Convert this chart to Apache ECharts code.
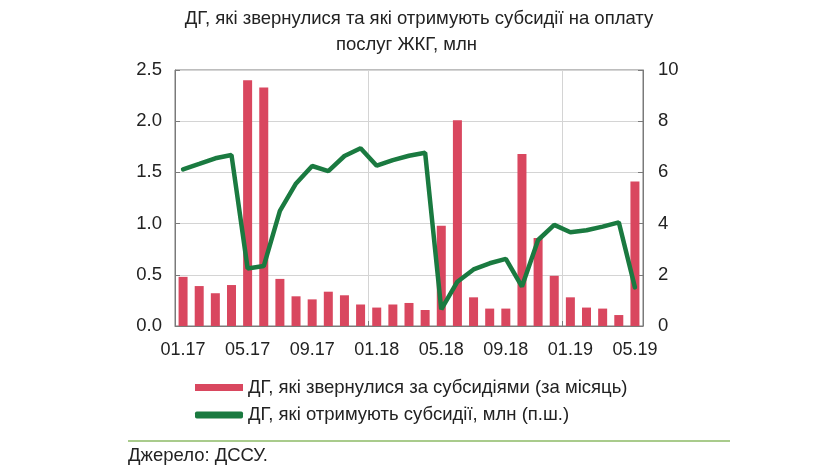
<!DOCTYPE html>
<html>
<head>
<meta charset="utf-8">
<script src="https://cdn.jsdelivr.net/npm/echarts@6/dist/echarts.min.js"></script>
<style>html,body{margin:0;padding:0;background:#fff}#c{width:821px;height:476px}</style>
</head>
<body>
<div id="c"></div>
<script>
const categories = ['01.17','02.17','03.17','04.17','05.17','06.17','07.17','08.17','09.17','10.17','11.17','12.17',
  '01.18','02.18','03.18','04.18','05.18','06.18','07.18','08.18','09.18','10.18','11.18','12.18',
  '01.19','02.19','03.19','04.19','05.19'];
const applied = [0.48,0.39,0.32,0.40,2.40,2.33,0.46,0.29,0.26,0.335,0.30,0.21,
  0.18,0.21,0.225,0.156,0.98,2.01,0.28,0.17,0.17,1.68,0.86,0.49,
  0.28,0.18,0.17,0.107,1.41];
const receiving = [6.12,6.33,6.55,6.68,2.25,2.34,4.5,5.57,6.25,6.05,6.64,6.94,
  6.26,6.48,6.65,6.77,0.65,1.73,2.21,2.45,2.62,1.54,3.36,3.95,
  3.66,3.74,3.88,4.05,1.51];
const leftTicks = [0, 2.5, 0.5];
const rightTicks = [0, 10, 2];
const titleLines = ['ДГ, які звернулися та які отримують субсидії на оплату', 'послуг ЖКГ, млн'];
const seriesNames = ['ДГ, які звернулися за субсидіями (за місяць)', 'ДГ, які отримують субсидії, млн (п.ш.)'];
const sourceText = 'Джерело: ДССУ.';

const FONT = 'Liberation Sans, Arial, sans-serif';
const TXT = '#222';
const chart = echarts.init(document.getElementById('c'));
chart.setOption({
  animation: false,
  textStyle: { fontFamily: FONT },
  grid: { left: 175, right: 178, top: 70, bottom: 150, show: true, borderColor: '#7a7a7a', borderWidth: 1 },
  legend: {
    orient: 'vertical', left: 190, top: 372.5, itemGap: 7.5, itemWidth: 48, itemHeight: 7,
    textStyle: { fontSize: 18.5, lineHeight: 20, color: TXT, fontFamily: FONT },
    data: [
      { name: seriesNames[0], icon: 'rect' },
      { name: seriesNames[1], icon: 'roundRect' }
    ]
  },
  xAxis: {
    type: 'category', data: categories, boundaryGap: true,
    axisLine: { lineStyle: { color: '#7a7a7a' } },
    axisTick: { show: true, inside: true, interval: (i) => i % 12 === 0 && i > 0, length: 5, lineStyle: { color: '#7a7a7a' } },
    axisLabel: { interval: 3, fontSize: 18, color: TXT, margin: 15, fontFamily: FONT },
    splitLine: { show: true, interval: (i) => i % 12 === 0 && i > 0, lineStyle: { color: '#d4d4d4' } }
  },
  yAxis: [
    {
      type: 'value', min: leftTicks[0], max: leftTicks[1], interval: leftTicks[2], position: 'left',
      axisLine: { show: true, lineStyle: { color: '#7a7a7a' } },
      axisTick: { show: true, inside: true, length: 5, lineStyle: { color: '#7a7a7a' } },
      axisLabel: { fontSize: 18.5, color: TXT, margin: 13, formatter: v => v.toFixed(1), fontFamily: FONT },
      splitLine: { show: true, lineStyle: { color: '#d4d4d4' } }
    },
    {
      type: 'value', min: rightTicks[0], max: rightTicks[1], interval: rightTicks[2], position: 'right',
      axisLine: { show: true, lineStyle: { color: '#7a7a7a' } },
      axisTick: { show: true, inside: true, length: 5, lineStyle: { color: '#7a7a7a' } },
      axisLabel: { fontSize: 18.5, color: TXT, margin: 15, fontFamily: FONT },
      splitLine: { show: false }
    }
  ],
  series: [
    { name: seriesNames[0], type: 'bar', data: applied, yAxisIndex: 0, barWidth: 9,
      itemStyle: { color: '#d9475f' } },
    { name: seriesNames[1], type: 'line', data: receiving, yAxisIndex: 1, symbol: 'none',
      lineStyle: { color: '#1a7a40', width: 4.5, cap: 'round' }, itemStyle: { color: '#1a7a40' } }
  ],
  graphic: [
    { type: 'text', style: { text: titleLines[0], x: 419, y: 19, textAlign: 'center', textVerticalAlign: 'middle', fontSize: 18.5, fill: TXT, fontFamily: FONT } },
    { type: 'text', style: { text: titleLines[1], x: 406.5, y: 45, textAlign: 'center', textVerticalAlign: 'middle', fontSize: 18.5, fill: TXT, fontFamily: FONT } },
    { type: 'line', shape: { x1: 128, y1: 441, x2: 730, y2: 441 }, style: { stroke: '#a9cb8c', lineWidth: 2 } },
    { type: 'text', style: { text: sourceText, x: 128, y: 456, textVerticalAlign: 'middle', fontSize: 18.5, fill: TXT, fontFamily: FONT } }
  ]
});
</script>
</body>
</html>
